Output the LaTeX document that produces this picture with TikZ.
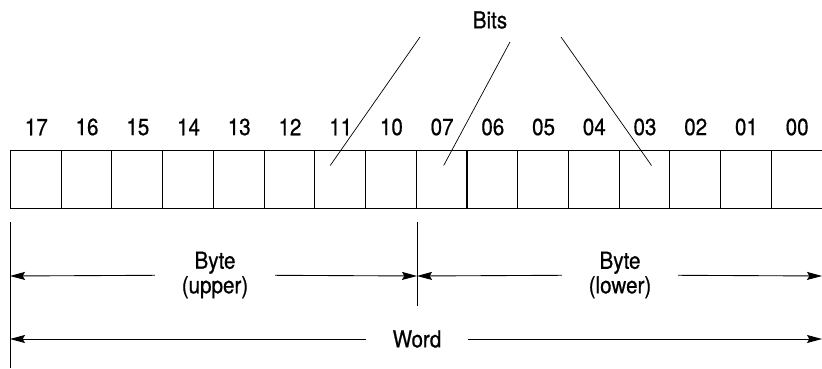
\documentclass[tikz,border=0pt]{standalone}
\usepackage{fontspec}
\setmainfont[FakeStretch=0.88,FakeBold=0.6]{TeX Gyre Heros}
\usetikzlibrary{arrows.meta,positioning,calc}

\begin{document}
\begin{tikzpicture}[x=0.03cm, y=-0.03cm,
    cell/.style={draw, line width=0.9pt, minimum width=1.5216cm, minimum height=1.74cm, inner sep=0pt, anchor=north west},
    bitnum/.style={font=\fontsize{20}{23}\selectfont},
    lbl/.style={font=\fontsize{20}{21}\selectfont, align=center, inner xsep=0.8cm},
    guide/.style={line width=0.6pt},
    dim/.style={line width=0.75pt, -{Stealth[length=4.5mm, width=2.4mm, inset=0.7mm]}}]
                    \useasboundingbox (0,0) rectangle (822,368);
                    \foreach \n [count=\i from 0] in {17,16,15,14,13,12,11,10,07,06,05,04,03,02,01,00} {
                        \node[cell] (c\n) at ({10+50.72*\i},150) {};
                        \node[bitnum] (n\n) at ({36.36+50.72*\i},127) {\n};
                    }
                    \node[bitnum] (bits) at (490,20) {Bits};
                    \coordinate (b1) at (420,37);
                    \coordinate (b2) at (510,42);
                    \coordinate (b3) at (561,37);
                    \draw[guide] (b1) -- ($(c11.center)+(-10,-14)$);
                    \draw[guide] (b2) -- ($(c07.center)+(2,-14)$);
                    \draw[guide] (b3) -- ($(c03.center)+(7,-14)$);
                    \coordinate (lt) at (10,222);
                    \coordinate (lb) at (10,368);
                    \coordinate (mt) at (417,222);
                    \coordinate (mb) at (417,306);
                    \draw[guide] (lt) -- (lb);
                    \draw[guide] (mt) -- (mb);
                    \coordinate (ul) at (10,276);
                    \coordinate (um) at (417,276);
                    \coordinate (ur) at (822,276);
                    \node[lbl] (bu) at (215,275) {Byte\\(upper)};
                    \node[lbl] (bl) at (620,275) {Byte\\(lower)};
                    \draw[dim] (bu) -- (ul);
                    \draw[dim] (bu) -- (um);
                    \draw[dim] (bl) -- (um);
                    \draw[dim] (bl) -- (ur);
                    \coordinate (wl) at (10,339);
                    \coordinate (wr) at (822,339);
                    \node[lbl, inner xsep=0.78cm] (wd) at (417,339) {Word};
                    \draw[dim] (wd) -- (wl);
                    \draw[dim] (wd) -- (wr);
                \end{tikzpicture}
\end{document}
